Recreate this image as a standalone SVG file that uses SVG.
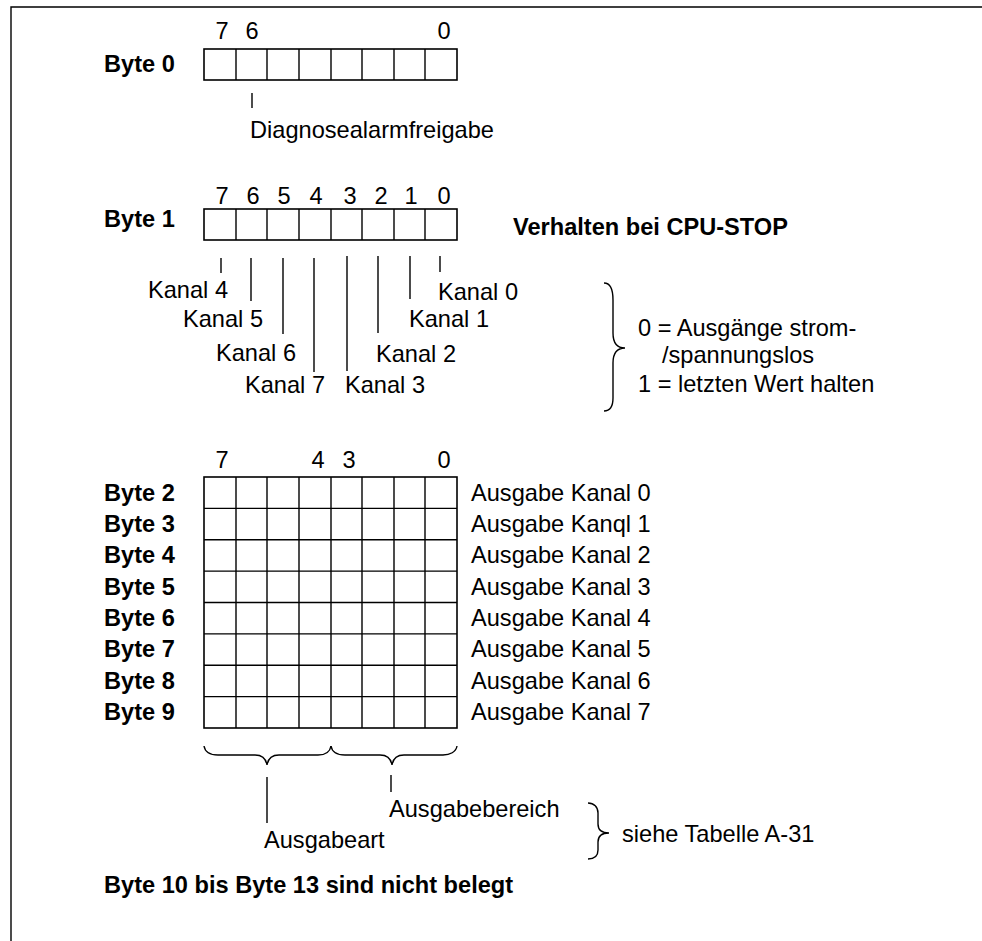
<svg xmlns="http://www.w3.org/2000/svg" width="982" height="941" viewBox="0 0 982 941">
<style>
text{font-family:"Liberation Sans",Arial,sans-serif;font-size:23.6px;fill:#000}
.b{font-weight:bold}
.m{text-anchor:middle}
.ln{stroke:#000;stroke-width:1.4;fill:none}
.cell{stroke:#000;stroke-width:1.6;fill:#fff}
</style>
<rect width="982" height="941" fill="#fff"/>
<g id="frame"><path class="ln" d="M11,941 V7 H982"/></g>

<g id="byte0">
<text class="m" x="222" y="39">7</text><text class="m" x="252" y="39">6</text><text class="m" x="444" y="39">0</text>
<text class="b" x="104" y="72">Byte 0</text>
<rect class="cell" x="204" y="49" width="253" height="31"/>
<path class="ln" d="M236,49V80M267,49V80M299,49V80M331,49V80M362,49V80M394,49V80M425,49V80"/>
</g>
<g id="diag">
<text x="250" y="138">Diagnosealarmfreigabe</text>
</g>

<g id="byte1">
<text class="m" x="222" y="204">7</text><text class="m" x="253" y="204">6</text><text class="m" x="284" y="204">5</text><text class="m" x="316" y="204">4</text><text class="m" x="350" y="204">3</text><text class="m" x="381" y="204">2</text><text class="m" x="411" y="204">1</text><text class="m" x="444" y="204">0</text>
<text class="b" x="104" y="227">Byte 1</text>
<rect class="cell" x="204" y="209" width="253" height="31"/>
<path class="ln" d="M236,209V240M267,209V240M299,209V240M331,209V240M362,209V240M394,209V240M425,209V240"/>
</g>
<g id="cpustop"><text class="b" x="513" y="235">Verhalten bei CPU-STOP</text></g>
<g id="kanal4"><text x="148" y="298">Kanal 4</text></g>
<g id="kanal5"><text x="183" y="327">Kanal 5</text></g>
<g id="kanal6"><text x="216" y="361">Kanal 6</text></g>
<g id="kanal7"><text x="245" y="393">Kanal 7</text></g>
<g id="kanal3"><text x="345" y="393">Kanal 3</text></g>
<g id="kanal2"><text x="376" y="362">Kanal 2</text></g>
<g id="kanal1"><text x="409" y="327">Kanal 1</text></g>
<g id="kanal0"><text x="438" y="300">Kanal 0</text></g>
<g id="stopinfo">
<text x="638" y="336">0 = Ausgänge strom-</text>
<text x="662" y="363">/spannungslos</text>
<text x="638" y="392">1 = letzten Wert halten</text>
</g>

<g id="grid">
<text class="m" x="222" y="468">7</text><text class="m" x="318" y="468">4</text><text class="m" x="349" y="468">3</text><text class="m" x="444" y="468">0</text>
<rect class="cell" x="204" y="477" width="253" height="251"/>
<path class="ln" d="M236,477V728M267,477V728M299,477V728M331,477V728M362,477V728M394,477V728M425,477V728M204,508.4H457M204,539.8H457M204,571.1H457M204,602.5H457M204,633.9H457M204,665.2H457M204,696.6H457"/>
<text class="b" x="104" y="501">Byte 2</text>
<text class="b" x="104" y="532">Byte 3</text>
<text class="b" x="104" y="563">Byte 4</text>
<text class="b" x="104" y="595">Byte 5</text>
<text class="b" x="104" y="626">Byte 6</text>
<text class="b" x="104" y="657">Byte 7</text>
<text class="b" x="104" y="689">Byte 8</text>
<text class="b" x="104" y="720">Byte 9</text>
<text x="471" y="501">Ausgabe Kanal 0</text>
<text x="471" y="532">Ausgabe Kanql 1</text>
<text x="471" y="563">Ausgabe Kanal 2</text>
<text x="471" y="595">Ausgabe Kanal 3</text>
<text x="471" y="626">Ausgabe Kanal 4</text>
<text x="471" y="657">Ausgabe Kanal 5</text>
<text x="471" y="689">Ausgabe Kanal 6</text>
<text x="471" y="720">Ausgabe Kanal 7</text>
</g>
<g id="ausgabeart"><text x="264" y="848">Ausgabeart</text></g>
<g id="ausgabebereich"><text x="389" y="817">Ausgabebereich</text></g>
<g id="tabelle"><text x="622" y="842">siehe Tabelle A-31</text></g>
<g id="footer"><text class="b" x="104" y="893">Byte 10 bis Byte 13 sind nicht belegt</text></g>

<g id="connectors">
<path class="ln" d="M252,93V108"/>
<path class="ln" d="M221,258V273M251,258V301M283,258V334M314,258V372M347,256V371M378,256V333M410,256V299M440,256V272"/>
<path class="ln" d="M604,283 C611,283 613,290 613,300 L613,333 C613,343 617,348 625,348 C617,348 613,353 613,363 L613,398 C613,406 611,411 604,411"/>
<path class="ln" d="M204,746 C205,752 210,755 218,755 L255,755 C262,755 266,759 267,765 C268,759 272,755 279,755 L318,755 C325,755 330,752 331,746"/>
<path class="ln" d="M331,746 C332,752 337,755 345,755 L380,755 C387,755 391,759 392,765 C393,759 397,755 404,755 L443,755 C450,755 456,752 457,746"/>
<path class="ln" d="M267,777V823M391,775V792"/>
<path class="ln" d="M588,803 C594,803 598,807 598,813 L598,824 C598,830 602,833 609,833 C602,833 598,836 598,842 L598,850 C598,856 594,859 588,859"/>
</g>
</svg>
